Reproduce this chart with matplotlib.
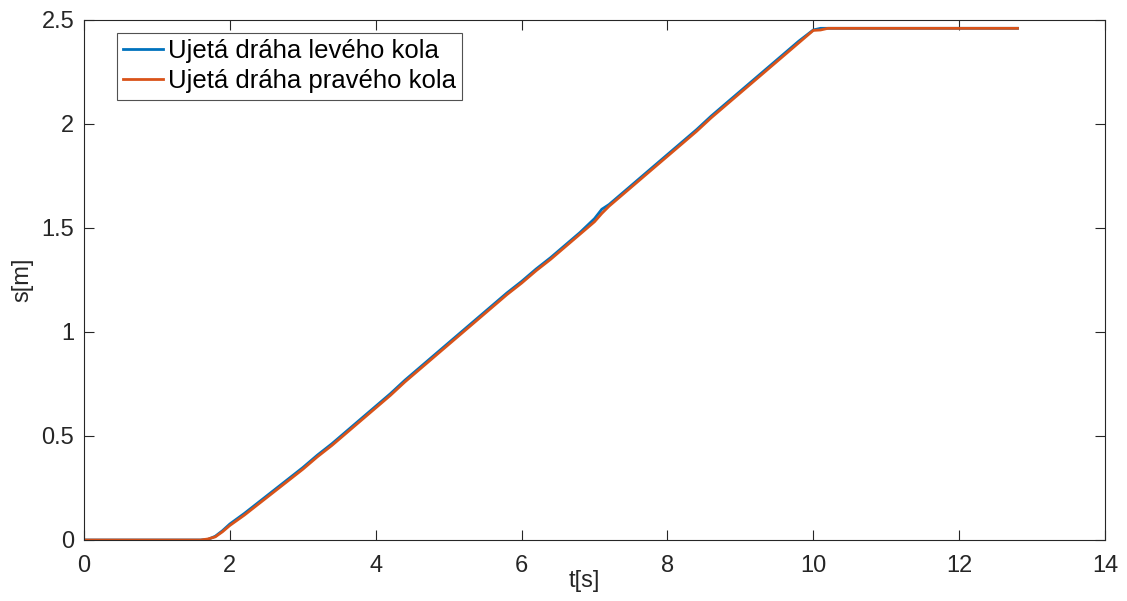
import matplotlib as mpl
mpl.use('Agg')
import matplotlib.pyplot as plt

# time samples [s]
t = [0, 1.6, 1.7, 1.8, 1.9, 2.0, 2.2, 2.4, 2.6, 2.8, 3.0, 3.2, 3.4, 3.6, 3.8,
     4.0, 4.2, 4.4, 4.6, 4.8, 5.0, 5.2, 5.4, 5.6, 5.8, 6.0, 6.2, 6.4, 6.6,
     6.8, 7.0, 7.1, 7.2, 7.4, 7.6, 7.8, 8.0, 8.2, 8.4, 8.6, 8.8, 9.0, 9.2,
     9.4, 9.6, 9.8, 10.0, 10.1, 10.2, 12.8]

# distance travelled by the left wheel [m]
s_left = [0, 0, 0.003, 0.018, 0.045, 0.077, 0.128, 0.183, 0.238, 0.293,
          0.348, 0.408, 0.463, 0.523, 0.583, 0.643, 0.703, 0.768, 0.828,
          0.888, 0.948, 1.008, 1.068, 1.128, 1.188, 1.243, 1.303, 1.358,
          1.418, 1.478, 1.545, 1.59, 1.613, 1.673, 1.733, 1.793, 1.853,
          1.913, 1.973, 2.038, 2.098, 2.158, 2.218, 2.278, 2.338, 2.398,
          2.452, 2.46, 2.46, 2.46]

# distance travelled by the right wheel [m]
s_right = [0, 0, 0.005, 0.015, 0.04, 0.07, 0.12, 0.175, 0.23, 0.285, 0.34,
           0.40, 0.455, 0.515, 0.575, 0.635, 0.695, 0.76, 0.82, 0.88, 0.94,
           1.0, 1.06, 1.12, 1.18, 1.235, 1.295, 1.35, 1.41, 1.47, 1.53,
           1.57, 1.605, 1.665, 1.725, 1.785, 1.845, 1.905, 1.965, 2.03,
           2.09, 2.15, 2.21, 2.27, 2.33, 2.39, 2.45, 2.452, 2.46, 2.46]

plt.rcParams['font.family'] = ['Liberation Sans', 'DejaVu Sans']
txt = '#262626'

fig = plt.figure(figsize=(11.27, 6.01), dpi=100)
ax = fig.add_axes([84/1127, 61/601, 1021/1127, 520/601])

ax.plot(t, s_left, color='#0072BD', lw=2, label='Ujetá dráha levého kola')
ax.plot(t, s_right, color='#D95319', lw=2, label='Ujetá dráha pravého kola')

ax.set_xlim(0, 14)
ax.set_ylim(0, 2.5)
ax.set_xticks(range(0, 15, 2))
ax.set_yticks([0, 0.5, 1, 1.5, 2, 2.5])
ax.set_yticklabels(['0', '0.5', '1', '1.5', '2', '2.5'])
ax.tick_params(direction='in', top=True, right=True, length=7, width=0.8,
               labelsize=17, colors=txt)
ax.tick_params(axis='x', pad=11)
ax.tick_params(axis='y', pad=7)
for sp in ax.spines.values():
    sp.set_color(txt)
    sp.set_linewidth(0.8)

ax.set_xlabel('t[s]', fontsize=17, color=txt)
ax.xaxis.set_label_coords(0.49, -0.058)
ax.set_ylabel('s[m]', fontsize=17, color=txt)
ax.yaxis.set_label_coords(-0.05, 0.5)

leg = ax.legend(loc='upper left', bbox_to_anchor=(0.032, 0.975), fontsize=18.5,
                frameon=True, fancybox=False, handlelength=1.55,
                handletextpad=0.2, borderpad=0.25, labelspacing=0.22,
                borderaxespad=0)
leg.get_frame().set_edgecolor(txt)
leg.get_frame().set_linewidth(0.8)

fig.savefig('out.png', dpi=100)
